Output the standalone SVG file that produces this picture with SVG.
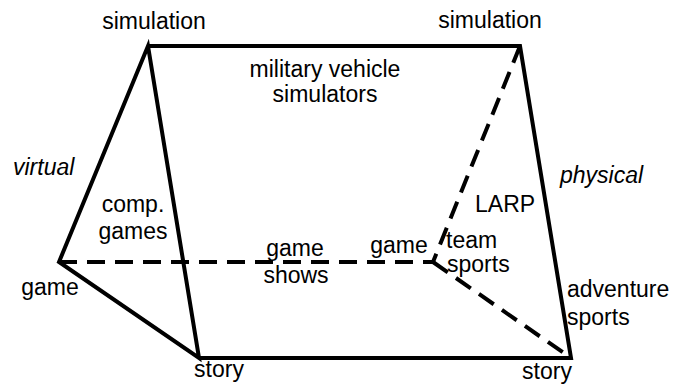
<svg xmlns="http://www.w3.org/2000/svg" width="691" height="385" viewBox="0 0 691 385">
<style>
.s{stroke:#000;stroke-width:4;fill:none;stroke-linejoin:miter}
.d{stroke:#000;stroke-width:4;fill:none;stroke-dasharray:18 10}
text{font-family:"Liberation Sans",Arial,sans-serif;font-size:23px;fill:#000}
.c{text-anchor:middle}
.i{font-style:italic}
</style>
<rect width="691" height="385" fill="#fff"/>
<g id="connectors">
<path class="s" d="M59,262 L148,46 L199,358 Z"/>
<path class="s" d="M148,46 L520,46 L571,358 L199,358"/>
<path class="d" d="M59,262 L433,262"/>
<path class="d" d="M520,46 L433,262"/>
<path class="d" d="M433,262 L571,358"/>
</g>
<g id="sim-left"><text class="c" x="154" y="29">simulation</text></g>
<g id="sim-right"><text class="c" x="490" y="28">simulation</text></g>
<g id="military"><text class="c" x="325" y="77">military vehicle</text><text class="c" x="325" y="102">simulators</text></g>
<g id="virtual"><text class="i" x="13" y="175">virtual</text></g>
<g id="physical"><text class="i" x="560" y="183">physical</text></g>
<g id="comp"><text class="c" x="133" y="212">comp.</text><text class="c" x="133" y="239">games</text></g>
<g id="game-left"><text class="c" x="50" y="295">game</text></g>
<g id="gameshows"><text class="c" x="295" y="256">game</text><text class="c" x="296" y="283">shows</text></g>
<g id="game-right"><text class="c" x="399" y="253">game</text></g>
<g id="larp"><text x="475" y="212">LARP</text></g>
<g id="team"><text x="446" y="248">team</text><text x="447" y="272">sports</text></g>
<g id="adventure"><text x="567" y="297">adventure</text><text x="567" y="325">sports</text></g>
<g id="story-left"><text class="c" x="219" y="377">story</text></g>
<g id="story-right"><text class="c" x="547" y="379">story</text></g>
</svg>
